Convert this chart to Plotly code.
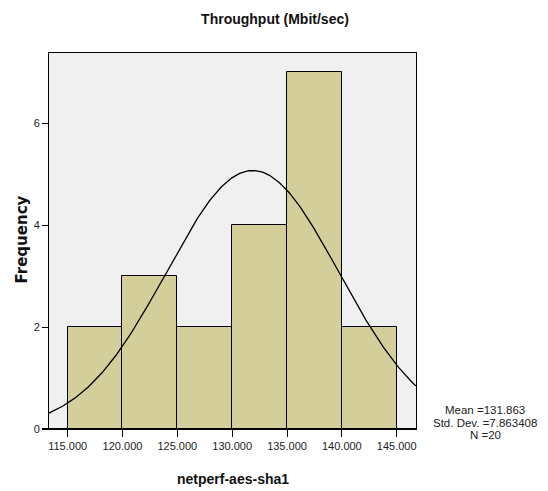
import numpy as np
import plotly.graph_objects as go

# Histogram bins (Mbit/sec) and counts
bin_left = [115, 120, 125, 130, 135, 140]
bin_width = 5
counts = [2, 3, 2, 4, 7, 2]

# Summary statistics
mean = 131.863
std_dev = 7.863408
n_obs = 20

x_ticks = [115, 120, 125, 130, 135, 140, 145]
y_ticks = [0, 2, 4, 6]

x_range = [113.3, 146.76]
y_range = [0, 7.38]

font_family = "Liberation Sans Narrow, Arial Narrow, Liberation Sans, Arial, sans-serif"

# Plot-area geometry in pixels, used to place free-standing labels
W, H = 548, 491
L, R, T, B = 49, 132, 53, 62
PW, PH = W - L - R, H - T - B


def px_to_paper(px, py):
    return (px - L) / PW, 1 - (py - T) / PH


centers = [b + bin_width / 2 for b in bin_left]

# Fitted normal curve scaled to counts
xs = np.linspace(x_range[0], x_range[1], 300)
ys = n_obs * bin_width * np.exp(-0.5 * ((xs - mean) / std_dev) ** 2) / (std_dev * np.sqrt(2 * np.pi))

fig = go.Figure()
fig.add_trace(go.Bar(
    x=centers, y=counts, width=bin_width,
    marker=dict(color="#D3CE9A", line=dict(color="black", width=1)),
    hoverinfo="skip",
))
fig.add_trace(go.Scatter(
    x=xs, y=ys, mode="lines",
    line=dict(color="black", width=1.3),
    hoverinfo="skip",
))

annotations = []

# Axis titles
fx, fy = px_to_paper(21.5, 240)
annotations.append(dict(
    text="<b>Frequency</b>", xref="paper", yref="paper", x=fx, y=fy,
    xanchor="center", yanchor="middle", textangle=-90, showarrow=False,
    font=dict(family="DejaVu Sans, Verdana, sans-serif", size=15, color="#111111"),
))
tx, ty = px_to_paper(232.5, 479)
annotations.append(dict(
    text="<b>netperf-aes-sha1</b>", xref="paper", yref="paper", x=tx, y=ty,
    xanchor="center", yanchor="middle", showarrow=False,
    font=dict(size=14, color="#111111"),
))

# Summary statistics block
stat_lines = [f"Mean ={mean}", f"Std. Dev. ={std_dev}", f"N ={n_obs}"]
for line, py in zip(stat_lines, [410, 422.5, 435]):
    sx, sy = px_to_paper(485, py)
    annotations.append(dict(
        text=line, xref="paper", yref="paper", x=sx, y=sy,
        xanchor="center", yanchor="middle", showarrow=False,
        font=dict(size=11.5, color="#222222"),
    ))

fig.update_layout(
    width=W, height=H,
    margin=dict(l=L, r=R, t=T, b=B),
    paper_bgcolor="white",
    plot_bgcolor="#F0F0F0",
    showlegend=False,
    bargap=0,
    font=dict(family=font_family, color="#222222", size=11),
    title=dict(
        text="<b>Throughput (Mbit/sec)</b>",
        x=275 / W, xanchor="center", y=1 - 19 / H, yanchor="middle",
        font=dict(size=14, color="#111111", family=font_family),
    ),
    xaxis=dict(
        range=x_range, tickvals=x_ticks,
        ticktext=[f"{v:.3f}" for v in x_ticks],
        ticks="outside", ticklen=7, tickcolor="black", tickwidth=1,
        showgrid=False, zeroline=False,
        showline=True, linecolor="black", linewidth=1, mirror=True,
        tickfont=dict(size=11, color="#222222"),
    ),
    yaxis=dict(
        range=y_range, tickvals=y_ticks,
        ticks="outside", ticklen=6, tickcolor="black", tickwidth=1,
        showgrid=False, zeroline=False,
        showline=True, linecolor="black", linewidth=1, mirror=True,
        tickfont=dict(size=11, color="#222222"),
    ),
    annotations=annotations,
)

# Heavier baseline, extending slightly left past the frame
fig.add_shape(type="line", xref="paper", yref="paper",
              x0=-7 / PW, x1=1, y0=0, y1=0,
              line=dict(color="black", width=2))

fig.write_html("out.html")
